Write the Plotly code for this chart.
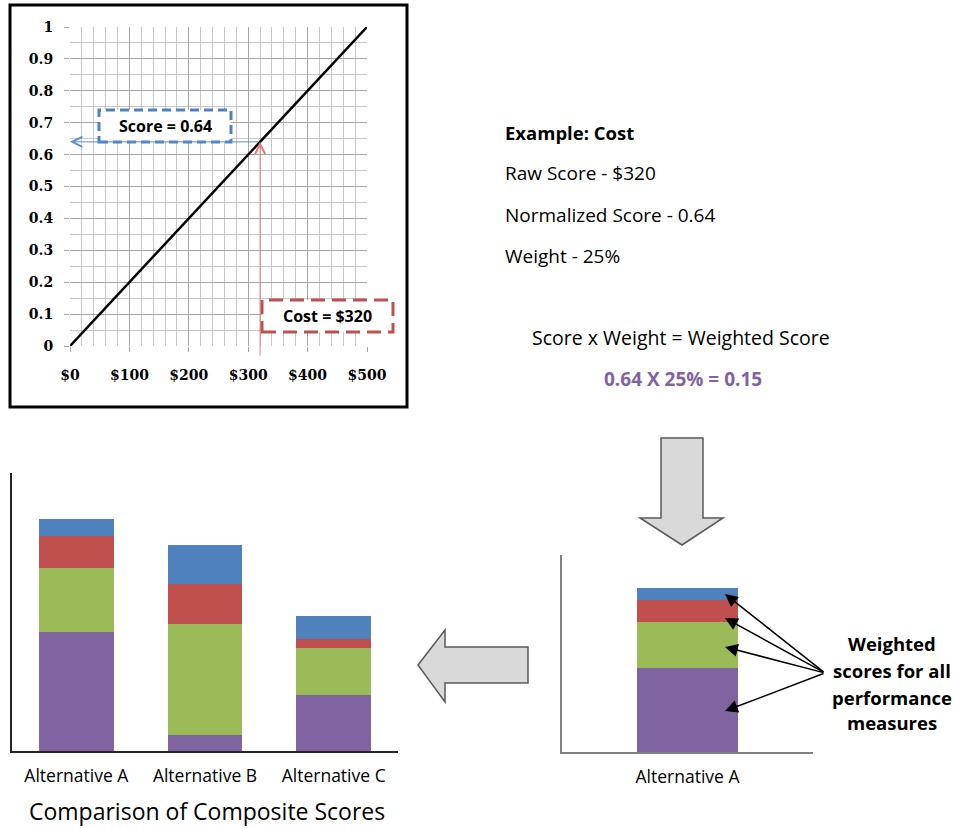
import plotly.graph_objects as go

W, H = 954, 828

# ---------------- data ----------------
cost_x = [0, 500]
score_y = [0, 1]
example_cost = 320
example_score = 0.64
example_weight = 25  # percent
weighted_score = 0.15

x_tick_vals = [0, 100, 200, 300, 400, 500]
x_tick_text = ["$0", "$100", "$200", "$300", "$400", "$500"]
y_tick_vals = [0, 0.1, 0.2, 0.3, 0.4, 0.5, 0.6, 0.7, 0.8, 0.9, 1]
y_tick_text = ["0", "0.1", "0.2", "0.3", "0.4", "0.5", "0.6", "0.7", "0.8", "0.9", "1"]

alternatives = ["Alternative A", "Alternative B", "Alternative C"]
measure_names = ["Measure 1", "Measure 2", "Measure 3", "Measure 4"]
measure1_vals = [0.428, 0.058, 0.201]   # purple
measure2_vals = [0.230, 0.399, 0.169]   # green
measure3_vals = [0.115, 0.144, 0.032]   # red
measure4_vals = [0.061, 0.140, 0.083]   # blue
measure_colors = ["#8064a2", "#9bbb59", "#c0504d", "#4f81bd"]


def px(x):
    return x / W


def py(y):
    return 1 - y / H


fig = go.Figure()

# ---------------- chart 1: normalization line ----------------
fig.add_trace(go.Scatter(x=cost_x, y=score_y, mode="lines",
                         line=dict(color="black", width=2.5),
                         xaxis="x", yaxis="y", showlegend=False, hoverinfo="skip"))

# ---------------- chart 2: composite comparison ----------------
series = [measure1_vals, measure2_vals, measure3_vals, measure4_vals]
for name, vals, col in zip(measure_names, series, measure_colors):
    fig.add_trace(go.Bar(x=alternatives, y=vals, name=name, marker=dict(color=col, line=dict(width=0)),
                         width=0.58, xaxis="x2", yaxis="y2", showlegend=False))

# ---------------- chart 3: single alternative ----------------
for name, vals, col in zip(measure_names, series, measure_colors):
    fig.add_trace(go.Bar(x=[alternatives[0]], y=[vals[0]], name=name, marker=dict(color=col, line=dict(width=0)),
                         width=0.4, xaxis="x3", yaxis="y3", showlegend=False))

shapes = []
annotations = []

# frame around chart 1
shapes.append(dict(type="rect", xref="paper", yref="paper",
                   x0=px(10), x1=px(407), y0=py(407), y1=py(5),
                   line=dict(color="black", width=3), fillcolor="rgba(0,0,0,0)"))

# dashed label boxes
shapes.append(dict(type="rect", xref="paper", yref="paper",
                   x0=px(99), x1=px(231), y0=py(142), y1=py(110),
                   line=dict(color="#4f81bd", width=3, dash="9px,5px"), fillcolor="white"))
shapes.append(dict(type="rect", xref="paper", yref="paper",
                   x0=px(262), x1=px(393), y0=py(332), y1=py(300),
                   line=dict(color="#c0504d", width=3, dash="14px,7px"), fillcolor="white"))


def poly(points):
    return "M " + " L ".join(f"{px(x):.5f},{py(y):.5f}" for x, y in points) + " Z"


# block arrows
shapes.append(dict(type="path", xref="paper", yref="paper",
                   path=poly([(661, 438), (703, 438), (703, 518), (723, 518), (682, 545), (640, 518), (661, 518)]),
                   fillcolor="#d9d9d9", line=dict(color="#595959", width=1.5)))
shapes.append(dict(type="path", xref="paper", yref="paper",
                   path=poly([(418, 665), (445, 630), (445, 647), (528, 647), (528, 683), (445, 683), (445, 702)]),
                   fillcolor="#d9d9d9", line=dict(color="#595959", width=1.5)))

# arrows in chart 1
annotations.append(dict(x=0, y=example_score, xref="x", yref="y",
                        ax=example_cost, ay=example_score, axref="x", ayref="y",
                        text="", showarrow=True, arrowhead=5, arrowsize=2, arrowwidth=1,
                        arrowcolor="#5b8fd0"))
annotations.append(dict(x=example_cost, y=example_score, xref="x", yref="y",
                        ax=example_cost, ay=-0.035, axref="x", ayref="y",
                        text="", showarrow=True, arrowhead=5, arrowsize=2, arrowwidth=1,
                        arrowcolor="#e07c7c"))


def label(x, y, text, size, color="black", bold=False, xanchor="center", family="Open Sans"):
    annotations.append(dict(x=px(x), y=py(y), xref="paper", yref="paper",
                            xanchor=xanchor, yanchor="middle", text=text, showarrow=False,
                            font=dict(family=family, size=size, color=color,
                                      weight="bold" if bold else "normal")))


label(165, 126, f"Score = {example_score}", 16, bold=True)
label(327, 316, f"Cost = ${example_cost}", 16, bold=True)

# text panel
label(503, 132, "Example: Cost", 18.5, bold=True, xanchor="left")
label(503, 173, f"Raw Score - ${example_cost}", 19, xanchor="left")
label(503, 215, f"Normalized Score - {example_score}", 19, xanchor="left")
label(503, 256, f"Weight - {example_weight}%", 19, xanchor="left")
label(681, 337, "Score x Weight = Weighted Score", 19.5)
label(683, 379, f"{example_score} X {example_weight}% = {weighted_score}", 19, color="#8064a2", bold=True)

# composite title
label(207, 811, "Comparison of Composite Scores", 23)

# pointer arrows in chart 3
tail = (825, 673)
for tip in [(725, 594), (725, 618), (725, 647), (725, 711)]:
    annotations.append(dict(x=px(tip[0]), y=py(tip[1]), xref="paper", yref="paper",
                            ax=tail[0] - tip[0], ay=tail[1] - tip[1],
                            text="", showarrow=True, arrowhead=2, arrowsize=1.7, arrowwidth=1.5,
                            arrowcolor="black"))
for txt, yy in [("Weighted", 643), ("scores for all", 670), ("performance", 697), ("measures", 722)]:
    label(892, yy, txt, 18.5, bold=True)

grid_major = "#a6a6a6"
grid_minor = "#c8c8c8"
tick_font = dict(family="DejaVu Serif", size=14, color="black", weight="bold")
cat_font = dict(family="Open Sans", size=17.5, color="black")

fig.update_layout(
    width=W, height=H, autosize=False,
    margin=dict(l=0, r=0, t=0, b=0, pad=0, autoexpand=False),
    paper_bgcolor="white", plot_bgcolor="white",
    barmode="stack", showlegend=False,
    shapes=shapes, annotations=annotations,
    xaxis=dict(domain=[px(70), px(367)], anchor="y", range=[0, 500], automargin=False,
               tickvals=x_tick_vals, ticktext=x_tick_text, tickfont=tick_font,
               showgrid=True, gridcolor=grid_major, gridwidth=1,
               minor=dict(dtick=20, showgrid=True, gridcolor=grid_minor, gridwidth=1),
               ticks="outside", ticklen=5, tickcolor=grid_major,
               zeroline=False, showline=False, ticklabelstandoff=11),
    yaxis=dict(domain=[py(346), py(27)], anchor="x", range=[0, 1], automargin=False,
               tickvals=y_tick_vals, ticktext=y_tick_text, tickfont=tick_font,
               showgrid=True, gridcolor=grid_major, gridwidth=1,
               minor=dict(dtick=0.05, showgrid=True, gridcolor=grid_minor, gridwidth=1),
               ticks="outside", ticklen=5, tickcolor=grid_major,
               zeroline=False, showline=False, ticklabelstandoff=8),
    xaxis2=dict(domain=[px(12), px(398)], anchor="y2", range=[-0.5, 2.5], type="category",
                automargin=False,
                showline=True, linecolor="#262626", linewidth=2, ticks="", showgrid=False,
                tickfont=cat_font, ticklabelstandoff=8),
    yaxis2=dict(domain=[py(751), py(473)], anchor="x2", range=[0, 1], automargin=False,
                showline=True, linecolor="#262626", linewidth=2, showticklabels=False,
                showgrid=False, zeroline=False, ticks=""),
    xaxis3=dict(domain=[px(562), px(813)], anchor="y3", range=[-0.5, 0.5], type="category",
                automargin=False,
                showline=True, linecolor="#808080", linewidth=2, ticks="", showgrid=False,
                tickfont=cat_font, ticklabelstandoff=8),
    yaxis3=dict(domain=[py(752), py(555)], anchor="x3", range=[0, 1], automargin=False,
                showline=True, linecolor="#808080", linewidth=2, showticklabels=False,
                showgrid=False, zeroline=False, ticks=""),
)

fig.write_html("out.html", config={"displayModeBar": False},
               post_script="document.body.style.margin='0';document.body.style.padding='0';")
